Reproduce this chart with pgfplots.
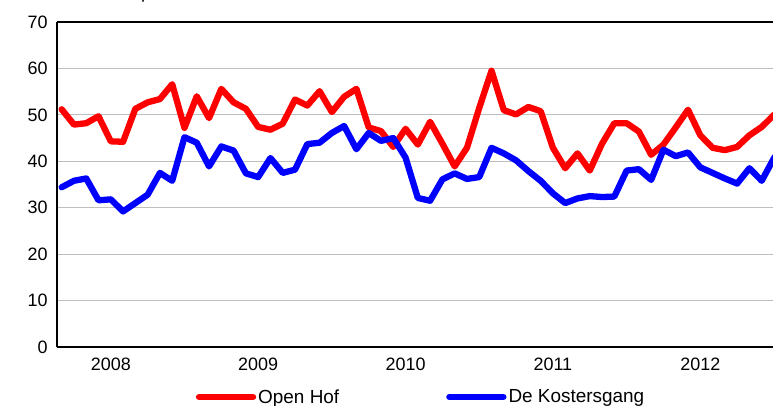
\documentclass[border=0pt]{standalone}
\usepackage{fontspec}
\setmainfont{Liberation Sans}
\usepackage{pgfplots}
\pgfplotsset{compat=1.18}

\definecolor{gridgray}{RGB}{190,190,190}

\begin{document}
\begin{tikzpicture}[x=1bp,y=1bp]
\useasboundingbox (-57bp,-59bp) rectangle (716bp,347bp);
% cut-off title above the chart
\node[anchor=base west,inner sep=0pt,font=\fontsize{18}{21}\selectfont] at (84bp,348bp) {p};
\begin{axis}[
    at={(0bp,0bp)}, anchor=south west,
    scale only axis,
    width=716bp, height=325bp,
    xmin=-0.38, xmax=57.92,
    ymin=0, ymax=70,
    ytick={0,10,...,70},
    xtick={4,16,28,40,52},
    xticklabels={2008,2009,2010,2011,2012},
    major tick length=0pt,
    separate axis lines,
    axis x line=box, axis y line=left,
    axis line style={-, line width=1.8bp, black},
    ymajorgrids=true,
    grid style={gridgray, line width=1bp},
    tick label style={font=\fontsize{18}{21}\selectfont},
    /pgf/number format/assume math mode=true,
    yticklabel style={xshift=-6bp},
    xticklabel style={yshift=-7bp},
    legend columns=2,
    legend style={at={(0.5085,-0.154)}, anchor=center, draw=none, fill=none,
        font=\fontsize{19}{22}\selectfont,
        /tikz/every even column/.append style={column sep=105bp}},
    legend image code/.code={\draw[#1] (0bp,0bp) -- (54bp,0bp);},
    every axis plot/.append style={line width=6.3bp, line join=round, line cap=round},
]
\addplot[red, mark=none] coordinates {
(0,51.2)(1,47.9)(2,48.2)(3,49.7)(4,44.3)(5,44.2)(6,51.3)(7,52.7)(8,53.4)(9,56.6)
(10,47.2)(11,54.0)(12,49.3)(13,55.6)(14,52.7)(15,51.3)(16,47.4)(17,46.8)(18,48.1)(19,53.3)
(20,52.0)(21,55.1)(22,50.6)(23,53.9)(24,55.6)(25,47.3)(26,46.5)(27,43.1)(28,47.0)(29,43.6)
(30,48.5)(31,43.8)(32,38.9)(33,42.9)(34,51.5)(35,59.5)(36,51.0)(37,50.1)(38,51.7)(39,50.8)
(40,42.9)(41,38.5)(42,41.7)(43,38.0)(44,43.8)(45,48.2)(46,48.2)(47,46.4)(48,41.4)(49,43.6)
(50,47.3)(51,51.1)(52,45.6)(53,42.9)(54,42.4)(55,43.1)(56,45.6)(57,47.4)(58,50.0)(59,51.5)
};
\addlegendentry{Open Hof}
\addplot[blue, mark=none] coordinates {
(0,34.4)(1,35.8)(2,36.3)(3,31.6)(4,31.8)(5,29.2)(6,31.0)(7,32.8)(8,37.5)(9,35.8)
(10,45.2)(11,44.0)(12,38.9)(13,43.2)(14,42.3)(15,37.4)(16,36.6)(17,40.7)(18,37.5)(19,38.2)
(20,43.7)(21,44.0)(22,46.1)(23,47.6)(24,42.6)(25,46.1)(26,44.4)(27,45.0)(28,40.8)(29,32.1)
(30,31.5)(31,36.1)(32,37.4)(33,36.2)(34,36.6)(35,42.9)(36,41.7)(37,40.2)(38,37.9)(39,35.8)
(40,33.1)(41,31.0)(42,32.0)(43,32.5)(44,32.3)(45,32.4)(46,38.0)(47,38.3)(48,36.0)(49,42.5)
(50,41.1)(51,41.9)(52,38.7)(53,37.5)(54,36.3)(55,35.2)(56,38.5)(57,35.8)(58,40.7)(59,44.0)
};
\addlegendentry{De Kostersgang}
\end{axis}
\end{tikzpicture}
\end{document}
